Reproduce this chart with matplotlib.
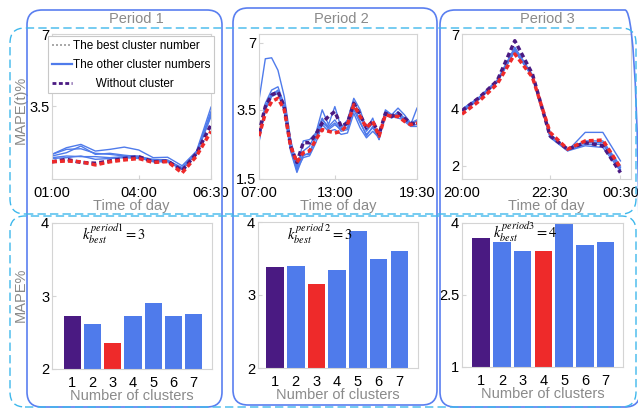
import numpy as np
import matplotlib
matplotlib.use('Agg')
import matplotlib.pyplot as plt
from matplotlib.patches import FancyBboxPatch
from matplotlib.lines import Line2D
from matplotlib.transforms import IdentityTransform

plt.rcParams['font.family'] = ['Liberation Sans', 'DejaVu Sans']
plt.rcParams['mathtext.fontset'] = 'stix'

# ---------------- data ----------------
# Period 1 (01:00 - 06:30, 30 min steps)
p1_best = [0.83, 0.87, 0.83, 0.68, 0.83, 0.92, 0.99, 0.80, 0.84, 0.29, 1.11, 2.30]
p1_nocl = [0.83, 0.95, 0.80, 0.76, 0.87, 0.99, 1.08, 0.83, 0.87, 0.40, 1.24, 2.62]
p1_other = [
    [1.19, 1.51, 1.67, 1.35, 1.43, 1.54, 1.40, 1.03, 1.05, 0.64, 1.35, 3.47],
    [1.19, 1.43, 1.46, 1.24, 1.19, 1.11, 1.11, 0.87, 0.87, 0.48, 1.27, 3.26],
    [1.11, 1.27, 1.59, 1.19, 1.24, 1.15, 1.08, 0.95, 0.92, 0.51, 1.30, 3.18],
    [1.03, 1.11, 1.08, 1.08, 1.03, 1.08, 1.03, 0.83, 0.83, 0.45, 1.24, 3.02],
    [0.99, 1.03, 1.11, 0.95, 0.99, 1.03, 0.99, 0.92, 0.87, 0.56, 1.19, 3.10],
]
p1_ticks = [0, 6, 11]
p1_ticklabels = ['01:00', '04:00', '06:30']

# Period 2 (07:00 - 19:30, 30 min steps)
p2_best = [2.74, 3.40, 3.93, 4.10, 3.50, 2.45, 1.98, 2.26, 2.31, 2.64, 2.93, 2.88, 2.83,
           2.88, 3.07, 3.76, 3.31, 2.98, 3.17, 2.74, 3.36, 3.31, 3.31, 3.17, 3.07, 3.12]
p2_nocl = [2.83, 3.67, 4.27, 4.44, 3.67, 2.45, 1.98, 2.55, 2.55, 2.79, 3.12, 3.31, 3.45,
           3.02, 3.12, 3.84, 3.36, 2.98, 3.17, 2.79, 3.40, 3.31, 3.40, 3.26, 3.12, 3.07]
p2_other = [
    [4.01, 6.16, 6.21, 5.56, 4.19, 2.64, 1.88, 2.31, 2.45, 2.83, 3.26, 2.93, 3.07,
     2.93, 2.98, 3.67, 3.17, 2.74, 3.02, 2.64, 3.45, 3.31, 3.26, 3.21, 3.07, 3.59],
    [2.55, 3.84, 4.53, 4.70, 3.76, 2.36, 1.74, 2.60, 2.64, 2.83, 3.50, 3.07, 3.67,
     2.98, 3.21, 4.10, 3.50, 2.93, 3.26, 2.64, 3.50, 3.36, 3.59, 3.36, 3.12, 3.17],
    [2.64, 3.50, 4.19, 4.36, 3.50, 2.31, 1.69, 2.17, 2.26, 2.74, 3.21, 3.02, 3.21,
     2.93, 3.07, 3.93, 3.36, 2.88, 3.12, 2.69, 3.36, 3.26, 3.45, 3.26, 3.07, 3.07],
    [2.69, 3.59, 4.27, 4.53, 3.59, 2.40, 1.83, 2.21, 2.21, 2.69, 3.12, 2.98, 3.12,
     2.88, 2.93, 3.50, 3.12, 2.79, 2.98, 2.74, 3.45, 3.31, 3.40, 3.21, 3.12, 3.21],
    [2.60, 3.67, 4.36, 4.44, 3.45, 2.36, 1.79, 2.12, 2.17, 2.55, 3.07, 2.88, 2.93,
     2.79, 2.83, 3.40, 2.98, 2.69, 2.88, 2.69, 3.40, 3.36, 3.36, 3.17, 3.02, 3.02],
]
p2_ticks = [0, 12, 25]
p2_ticklabels = ['07:00', '13:00', '19:30']

# Period 3 (20:00 - 00:30, 30 min steps)
p3_best = [3.82, 4.33, 5.00, 6.20, 5.27, 3.18, 2.59, 2.88, 2.91, 1.94]
p3_nocl = [3.94, 4.47, 5.13, 6.73, 5.40, 3.06, 2.59, 2.82, 2.71, 1.76]
p3_other = [
    [4.00, 4.47, 5.13, 6.33, 5.33, 3.00, 2.53, 3.18, 3.18, 2.18],
    [3.94, 4.47, 5.07, 6.40, 5.27, 3.06, 2.55, 2.76, 2.76, 1.88],
    [3.88, 4.40, 5.07, 6.33, 5.33, 3.12, 2.59, 2.82, 2.82, 1.94],
    [3.96, 4.49, 5.16, 6.47, 5.37, 3.04, 2.53, 2.71, 2.65, 1.82],
    [3.91, 4.43, 5.09, 6.31, 5.29, 3.11, 2.56, 2.88, 2.88, 2.00],
]
p3_ticks = [0, 5, 9]
p3_ticklabels = ['20:00', '22:30', '00:30']

# Bar charts: MAPE% vs number of clusters
clusters = [1, 2, 3, 4, 5, 6, 7]
bar_p1 = [2.73, 2.62, 2.35, 2.72, 2.90, 2.72, 2.76]
bar_p2 = [3.39, 3.40, 3.15, 3.34, 3.88, 3.49, 3.60]
bar_p3 = [3.69, 3.61, 3.42, 3.42, 3.99, 3.55, 3.61]
best_k = [3, 3, 4]
periods = ['Period 1', 'Period 2', 'Period 3']
legend_labels = ['The best cluster number', 'The other cluster numbers', 'Without cluster']

# ---------------- style ----------------
W, H = 638, 409
BLUE = '#4F7BEB'
PURPLE = '#4A1A82'
RED = '#EE2A2A'
GRAY = '#8a8a8a'
AXC = '#d4d4d4'

fig = plt.figure(figsize=(W / 100, H / 100), dpi=100)


def ax_at(x0, y0, x1, y1):
    return fig.add_axes([x0 / W, 1 - y1 / H, (x1 - x0) / W, (y1 - y0) / H])


def piecewise_scale(ax, vals, pos):
    vals = np.asarray(vals, float)
    pos = np.asarray(pos, float)
    s0 = (pos[1] - pos[0]) / (vals[1] - vals[0])
    s1 = (pos[-1] - pos[-2]) / (vals[-1] - vals[-2])
    v = np.concatenate([[vals[0] - 1000], vals, [vals[-1] + 1000]])
    p = np.concatenate([[pos[0] - 1000 * s0], pos, [pos[-1] + 1000 * s1]])
    ax.set_yscale('function', functions=(lambda x: np.interp(x, v, p),
                                         lambda y: np.interp(y, p, v)))


def style(ax):
    for sp in ax.spines.values():
        sp.set_color(AXC)
        sp.set_linewidth(0.8)
    ax.tick_params(direction='in', length=3, color=AXC, labelcolor='black',
                   labelsize=10.5, pad=2)
    ax.tick_params(axis='x', pad=5)


line_axes = [ax_at(52, 34, 211, 179), ax_at(259, 34, 417, 179), ax_at(462, 34, 631, 179)]
bar_axes = [ax_at(52, 223, 212, 369), ax_at(258, 222, 418, 368), ax_at(462, 223, 623, 367)]

line_data = [(p1_best, p1_nocl, p1_other, p1_ticks, p1_ticklabels),
             (p2_best, p2_nocl, p2_other, p2_ticks, p2_ticklabels),
             (p3_best, p3_nocl, p3_other, p3_ticks, p3_ticklabels)]

# y scales for line panels (value anchors -> relative positions)
scales = [([0, 3.5, 7], [0, 72, 144], (0, 7), [3.5, 7]),
          ([1.5, 3.5, 7], [0, 70, 138], (1.5, 7.45), [1.5, 3.5, 7]),
          ([1.53, 2, 4, 7], [0, 13, 70, 145], (1.53, 7), [2, 4, 7])]
xlims = [(0, 11), (0, 25), (0, 9.6)]

for i, ax in enumerate(line_axes):
    best, nocl, other, ticks, tlabels = line_data[i]
    x = np.arange(len(best))
    for o in other:
        ax.plot(x, o, color=BLUE, lw=1.0, zorder=2)
    ax.plot(x, nocl, color=PURPLE, lw=2.5, ls=(0, (1.4, 0.9)), zorder=3)
    ax.plot(x, best, color=RED, lw=2.5, ls=(0, (1.4, 0.9)), zorder=4)
    sv, sp_, lim, yt = scales[i]
    piecewise_scale(ax, sv, sp_)
    ax.set_ylim(*lim)
    ax.set_yticks(yt)
    ax.set_yticklabels([('%g' % t) for t in yt])
    ax.set_xlim(*xlims[i])
    ax.set_xticks(ticks)
    ax.set_xticklabels(tlabels)
    ax.yaxis.set_minor_locator(matplotlib.ticker.NullLocator())
    style(ax)
    ax.set_xlabel('Time of day', color=GRAY, fontsize=10.5, labelpad=-1)

handles = [Line2D([], [], color='#9a9a9a', lw=1.2, ls=(0, (1.2, 1.2))),
           Line2D([], [], color=BLUE, lw=1.6),
           Line2D([], [], color=PURPLE, lw=2.0, ls=(0, (1.4, 0.9)))]
labs = [legend_labels[0], legend_labels[1], '       ' + legend_labels[2]]
leg = line_axes[0].legend(handles, labs, loc='upper center', bbox_to_anchor=(0.497, 0.985),
                          fontsize=8.5, frameon=True, fancybox=False, edgecolor='#c8c8c8',
                          framealpha=1, handlelength=1.7, handletextpad=0.1,
                          borderpad=0.3, labelspacing=0.6, borderaxespad=0)
leg.get_frame().set_linewidth(0.8)

bar_data = [bar_p1, bar_p2, bar_p3]
bar_ylims = [(2, 4), (2, 4), (1, 4)]
bar_yticks = [[2, 3, 4], [2, 3, 4], [1, 2.5, 4]]
bar_xlims = [(0.0, 7.9), (0.18, 7.9), (0.08, 7.84)]
ann = [r'$k_{best}^{period1}=3$', r'$k_{best}^{period\ 2}=3$', r'$k_{best}^{period3}=4$']
ann_pos = [(0.19, 0.93), (0.18, 0.92), (0.19, 0.94)]

for i, ax in enumerate(bar_axes):
    vals = bar_data[i]
    cols = []
    for k in clusters:
        if k == 1:
            cols.append(PURPLE)
        elif k == best_k[i]:
            cols.append(RED)
        else:
            cols.append(BLUE)
    ax.bar(clusters, vals, width=0.85, color=cols, zorder=2)
    ax.set_ylim(*bar_ylims[i])
    ax.set_yticks(bar_yticks[i])
    ax.set_yticklabels([('%g' % t) for t in bar_yticks[i]])
    ax.set_xlim(*bar_xlims[i])
    ax.set_xticks(clusters)
    style(ax)
    ax.set_xlabel('Number of clusters', color=GRAY, fontsize=10.5, labelpad=-1)
    ax.text(ann_pos[i][0], ann_pos[i][1], ann[i], transform=ax.transAxes,
            fontsize=10.5, va='center', ha='left', zorder=5)

# titles and y labels
for t, cx in zip(periods, [136, 341, 547]):
    fig.text(cx / W, 1 - 19 / H, t, color=GRAY, fontsize=10.5, ha='center', va='center')
fig.text(21 / W, 1 - 110 / H, 'MAPE(t)%', color=GRAY, fontsize=10.5, rotation=90,
         ha='center', va='center')
fig.text(21 / W, 1 - 295 / H, 'MAPE%', color=GRAY, fontsize=10.5, rotation=90,
         ha='center', va='center')

# frames (pixel coordinates, origin bottom-left)
def rbox(x0, y0, x1, y1, color, ls='-', lw=1.2, r=15):
    p = FancyBboxPatch((x0, H - y1), x1 - x0, y1 - y0,
                       boxstyle='round,pad=0,rounding_size=%g' % r,
                       transform=IdentityTransform(), fill=False, ec=color,
                       ls=ls, lw=lw, zorder=10)
    fig.add_artist(p)

COL = '#5a7ff0'
rbox(27, 10, 222, 407, COL)
rbox(233, 8, 437, 405, COL)
rbox(440, 10, 640, 407, COL)
CYAN = '#3fb8ec'
rbox(10, 28, 636, 214, CYAN, ls=(0, (6, 3)), lw=1.0)
rbox(10, 216, 636, 407, CYAN, ls=(0, (6, 3)), lw=1.0)

fig.savefig('out.png', dpi=100)
